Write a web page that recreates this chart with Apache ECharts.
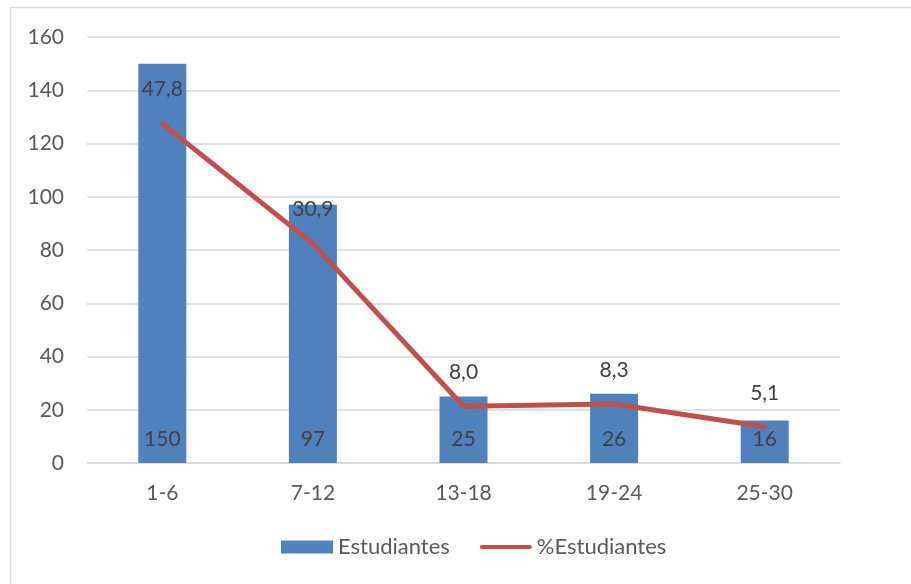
<!DOCTYPE html>
<html>
<head>
<meta charset="utf-8">
<script src="https://cdn.jsdelivr.net/npm/echarts@6/dist/echarts.min.js"></script>
<style>
  html, body { margin: 0; padding: 0; background: #fff; }
  #chart { width: 911px; height: 584px; }
</style>
</head>
<body>
<div id="chart"></div>
<script>
// Age groups and student counts
const categories = ['1-6', '7-12', '13-18', '19-24', '25-30'];
const students = [150, 97, 25, 26, 16];
const studentsPct = [47.8, 30.9, 8.0, 8.3, 5.1];
const yTicks = [0, 20, 40, 60, 80, 100, 120, 140, 160];

const FONT = 'Lato, "Open Sans", sans-serif';
const chart = echarts.init(document.getElementById('chart'), null, { renderer: 'canvas' });

chart.setOption({
  backgroundColor: '#fff',
  animation: false,
  textStyle: { fontFamily: FONT },
  graphic: [{
    type: 'rect',
    shape: { x: 10.5, y: 7.5, width: 920, height: 600 },
    style: { fill: 'none', stroke: '#d9d9d9', lineWidth: 1.5 },
    silent: true
  }],
  grid: { left: 87, right: 71, top: 37, bottom: 121, containLabel: false },
  legend: {
    bottom: 21,
    left: 276,
    itemGap: 30,
    itemWidth: 52,
    itemHeight: 13,
    textStyle: { color: '#595959', fontSize: 22, fontFamily: FONT },
    data: [
      { name: 'Estudiantes', icon: 'rect' },
      { name: '%Estudiantes', icon: 'path://M2,0 L50,0 A2,2 0 0 1 50,4 L2,4 A2,2 0 0 1 2,0 Z', itemStyle: { color: '#c0504d', opacity: 1 } }
    ]
  },
  xAxis: {
    type: 'category',
    data: categories,
    axisLine: { lineStyle: { color: '#d9d9d9', width: 1.5 } },
    axisTick: { show: false },
    axisLabel: { color: '#595959', fontSize: 21, margin: 20, fontFamily: FONT }
  },
  yAxis: [{
    type: 'value',
    min: yTicks[0],
    max: yTicks[yTicks.length - 1],
    interval: 20,
    axisLine: { show: false },
    axisTick: { show: false },
    axisLabel: { color: '#595959', fontSize: 21, margin: 23, fontFamily: FONT },
    splitLine: { lineStyle: { color: '#d9d9d9', width: 1.5 } }
  }, {
    type: 'value',
    min: 0,
    max: 60,
    show: false,
    splitLine: { show: false }
  }],
  series: [{
    name: 'Estudiantes',
    type: 'bar',
    data: students,
    barWidth: 48,
    itemStyle: { color: '#4f81bd' },
    label: {
      show: true,
      position: 'insideBottom',
      distance: 13,
      color: '#404040',
      fontSize: 21,
      fontFamily: FONT
    },
    z: 2
  }, {
    name: '%Estudiantes',
    type: 'line',
    yAxisIndex: 1,
    data: studentsPct,
    symbol: 'circle',
    symbolSize: 3,
    showSymbol: true,
    lineStyle: { color: '#c0504d', width: 5, cap: 'round', join: 'round' },
    itemStyle: { color: '#c0504d' },
    label: {
      show: true,
      position: 'top',
      distance: 22,
      color: '#404040',
      fontSize: 21,
      fontFamily: FONT,
      formatter: p => p.value.toFixed(1).replace('.', ',')
    },
    z: 3
  }]
});
</script>
</body>
</html>
